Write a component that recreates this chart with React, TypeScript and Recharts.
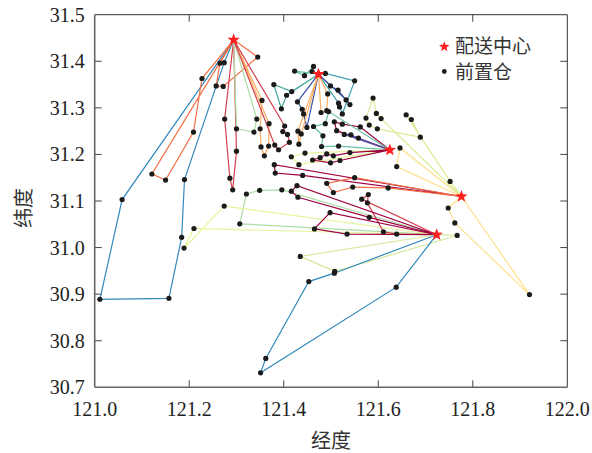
import React from "react";
import { ScatterChart, Scatter, XAxis, YAxis, ReferenceLine } from "recharts";

const lonTicks = [121.0, 121.2, 121.4, 121.6, 121.8, 122.0];
const latTicks = [30.7, 30.8, 30.9, 31.0, 31.1, 31.2, 31.3, 31.4, 31.5];

// 配送中心
const depots = [
  [121.294, 31.446],
  [121.4735, 31.3724],
  [121.6245, 31.2097],
  [121.776, 31.1097],
  [121.7236, 31.0276],
];

const routeDepot = [0, 0, 0, 0, 0, 0, 0, 1, 1, 1, 1, 1, 1, 1, 2, 2, 2, 2, 2, 3, 3, 3, 3, 3, 4, 4, 4, 4, 4, 4, 4];

const routeColors = [
  "#3288bd", "#f46d43", "#f46d43", "#d53e4f", "#abdda4", "#fdae61", "#d53e4f",
  "#66c2a5", "#3fa89a", "#3d9fb0", "#3953a4", "#3953a4", "#fdae61", "#fdae61",
  "#9e0142", "#5e4fa2", "#66c2a5", "#e6f598", "#9e0142",
  "#fee08b", "#d9ec95", "#fee08b", "#9e0142", "#f46d43",
  "#abdda4", "#e6f598", "#d53e4f", "#9e0142", "#9e0142", "#d4e99c", "#3288bd",
];

// 前置仓, route by route (lon, lat)
const routeStops = [
  [[121.058, 31.103], [121.011, 30.889], [121.157, 30.891], [121.184, 31.022], [121.19, 31.146], [121.274, 31.397]],
  [[121.121, 31.158], [121.15, 31.145], [121.209, 31.248], [121.227, 31.363]],
  [[121.265, 31.396], [121.257, 31.347], [121.272, 31.346], [121.345, 31.409]],
  [[121.275, 31.276], [121.286, 31.149], [121.292, 31.124], [121.3, 31.207]],
  [[121.3, 31.255], [121.337, 31.248], [121.343, 31.276]],
  [[121.354, 31.316], [121.35, 31.255], [121.352, 31.216], [121.359, 31.197], [121.368, 31.218], [121.369, 31.266]],
  [[121.402, 31.261], [121.398, 31.249], [121.408, 31.243], [121.412, 31.226], [121.389, 31.21], [121.381, 31.22]],
  [[121.46, 31.378], [121.463, 31.389], [121.444, 31.369], [121.423, 31.379]],
  [[121.417, 31.335], [121.379, 31.35], [121.395, 31.298], [121.406, 31.327]],
  [[121.488, 31.374], [121.55, 31.358], [121.524, 31.287], [121.518, 31.302], [121.516, 31.31]],
  [[121.499, 31.347], [121.515, 31.338], [121.54, 31.307], [121.532, 31.317]],
  [[121.429, 31.313], [121.439, 31.297], [121.442, 31.287], [121.449, 31.258]],
  [[121.493, 31.33], [121.491, 31.294], [121.479, 31.29]],
  [[121.43, 31.25], [121.432, 31.222], [121.437, 31.244]],
  [[121.562, 31.259], [121.524, 31.265], [121.507, 31.27], [121.512, 31.251]],
  [[121.558, 31.235], [121.542, 31.242], [121.528, 31.243]],
  [[121.516, 31.218], [121.48, 31.217], [121.483, 31.24], [121.463, 31.26], [121.488, 31.266], [121.495, 31.292]],
  [[121.445, 31.203], [121.416, 31.195], [121.432, 31.178]],
  [[121.54, 31.204], [121.505, 31.197], [121.491, 31.201], [121.477, 31.193], [121.461, 31.188], [121.499, 31.182], [121.519, 31.187]],
  [[121.639, 31.174], [121.646, 31.214]],
  [[121.752, 31.142], [121.659, 31.285], [121.67, 31.275], [121.689, 31.237], [121.598, 31.255], [121.581, 31.263], [121.574, 31.278], [121.589, 31.321], [121.596, 31.288], [121.606, 31.277]],
  [[121.748, 31.085], [121.762, 31.053], [121.92, 30.899]],
  [[121.44, 31.155], [121.382, 31.16], [121.38, 31.178]],
  [[121.621, 31.128], [121.546, 31.13], [121.505, 31.118], [121.491, 31.138], [121.55, 31.15]],
  [[121.396, 31.124], [121.349, 31.123], [121.321, 31.115], [121.307, 31.051]],
  [[121.274, 31.089], [121.189, 30.999], [121.21, 31.041]],
  [[121.639, 31.029], [121.611, 31.034], [121.577, 31.096], [121.579, 31.114], [121.565, 31.104]],
  [[121.534, 31.029], [121.465, 31.04], [121.498, 31.075]],
  [[121.581, 31.065], [121.43, 31.108], [121.416, 31.121], [121.428, 31.133]],
  [[121.435, 30.981], [121.508, 30.949], [121.767, 31.026]],
  [[121.507, 30.945], [121.453, 30.927], [121.362, 30.762], [121.351, 30.731], [121.638, 30.915]],
];

const toXY = ([x, y]: number[]) => ({ x, y });

const routes = routeStops.map((stops, i) => {
  const d = depots[routeDepot[i]];
  return [d, ...stops, d].map(toXY);
});
const stores = routeStops.flat().map(toXY);
const centers = depots.map(toXY);

const TICK_X = 0.0148;
const TICK_Y = 0.015;
const serif = "'Liberation Serif', 'Times New Roman', 'DejaVu Serif', serif";
const cjk = "'Noto Sans CJK SC'";

function starPoints(cx: number, cy: number, r: number) {
  const pts: string[] = [];
  for (let i = 0; i < 10; i++) {
    const rad = i % 2 === 0 ? r : r * 0.42;
    const a = -Math.PI / 2 + (i * Math.PI) / 5;
    pts.push(`${cx + rad * Math.cos(a)},${cy + rad * Math.sin(a)}`);
  }
  return pts.join(" ");
}

const StarShape = (props: any) => (
  <polygon points={starPoints(props.cx, props.cy, 6.5)} fill="#ff1f1f" />
);

const DotShape = (props: any) => <circle cx={props.cx} cy={props.cy} r={2.6} fill="#1b1b1b" />;

const NoShape = () => <g />;

const XTick = (props: any) => (
  <text x={props.x} y={props.y + 29} textAnchor="middle" fontSize={20} fill="#222" style={{ fontFamily: serif }}>
    {Number(props.payload.value).toFixed(1)}
  </text>
);

const YTick = (props: any) => (
  <text x={props.x - 10} y={props.y + 7} textAnchor="end" fontSize={20} fill="#222" style={{ fontFamily: serif }}>
    {Number(props.payload.value).toFixed(1)}
  </text>
);

export default function App() {
  const bottomTicks = lonTicks.slice(1, -1);
  const sideTicks = latTicks.slice(1, -1);
  return (
    <div style={{ position: "absolute", left: 0, top: 0, width: 592, height: 453, background: "#fff" }}>
      <ScatterChart width={592} height={453} margin={{ top: 14.7, right: 24.7, bottom: 0, left: 0 }}>
        <XAxis
          type="number"
          dataKey="x"
          domain={[121, 122]}
          ticks={lonTicks}
          tickLine={false}
          tickSize={0}
          tickMargin={0}
          axisLine={{ stroke: "#666", strokeWidth: 1.6 }}
          tick={XTick}
          height={65.7}
          allowDataOverflow
        />
        <YAxis
          type="number"
          dataKey="y"
          domain={[30.7, 31.5]}
          ticks={latTicks}
          tickLine={false}
          tickSize={0}
          tickMargin={0}
          axisLine={{ stroke: "#666", strokeWidth: 1.6 }}
          tick={YTick}
          width={94.7}
          allowDataOverflow
        />
        <ReferenceLine x={122} stroke="#333" strokeWidth={1} />
        <ReferenceLine y={31.5} stroke="#333" strokeWidth={1} />
        {bottomTicks.map((t) => (
          <ReferenceLine key={`b${t}`} segment={[{ x: t, y: 30.7 }, { x: t, y: 30.7 + TICK_Y }]} stroke="#444" />
        ))}
        {bottomTicks.map((t) => (
          <ReferenceLine key={`t${t}`} segment={[{ x: t, y: 31.5 }, { x: t, y: 31.5 - TICK_Y }]} stroke="#444" />
        ))}
        {sideTicks.map((t) => (
          <ReferenceLine key={`l${t}`} segment={[{ x: 121, y: t }, { x: 121 + TICK_X, y: t }]} stroke="#444" />
        ))}
        {sideTicks.map((t) => (
          <ReferenceLine key={`r${t}`} segment={[{ x: 122, y: t }, { x: 122 - TICK_X, y: t }]} stroke="#444" />
        ))}
        {routes.map((pts, i) => (
          <Scatter
            key={`route-${i}`}
            data={pts}
            line={{ stroke: routeColors[i], strokeWidth: 1.2 }}
            shape={NoShape}
            isAnimationActive={false}
            legendType="none"
          />
        ))}
        <Scatter data={stores} shape={DotShape} isAnimationActive={false} legendType="none" />
        <Scatter data={centers} shape={StarShape} isAnimationActive={false} legendType="none" />
      </ScatterChart>
      <svg width={592} height={453} style={{ position: "absolute", left: 0, top: 0, pointerEvents: "none" }}>
        <polygon points={starPoints(444.3, 46.7, 5.5)} fill="#ff1f1f" />
        <text x={455} y={53} fontSize={19} fill="#333" style={{ fontFamily: cjk }}>
          配送中心
        </text>
        <circle cx={444.3} cy={71.5} r={2.4} fill="#1b1b1b" />
        <text x={455} y={79} fontSize={19} fill="#333" style={{ fontFamily: cjk }}>
          前置仓
        </text>
        <text x={331} y={439} textAnchor="middle" dominantBaseline="central" fontSize={20} fill="#333" style={{ fontFamily: cjk }}>
          经度
        </text>
        <text
          x={22}
          y={208}
          textAnchor="middle"
          dominantBaseline="central"
          fontSize={20}
          fill="#333"
          style={{ fontFamily: cjk }}
          transform="rotate(-90 22 208)"
        >
          纬度
        </text>
      </svg>
    </div>
  );
}
